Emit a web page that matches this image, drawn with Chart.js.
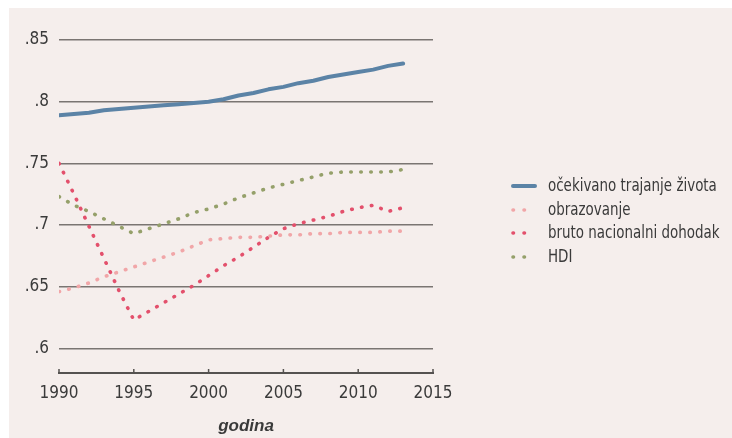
<!DOCTYPE html>
<html>
<head>
<meta charset="utf-8">
<script src="https://cdn.jsdelivr.net/npm/chart.js@4/dist/chart.umd.min.js"></script>
<style>
  html, body { margin: 0; padding: 0; background: #ffffff; }
  #wrap { width: 732px; height: 438px; position: relative; }
  canvas { display: block; }
</style>
</head>
<body>
<div id="wrap"><canvas id="c" width="732" height="438"></canvas></div>
<script>
// ---- data ----
const years = [1990,1991,1992,1993,1994,1995,1996,1997,1998,1999,2000,2001,2002,2003,2004,2005,2006,2007,2008,2009,2010,2011,2012,2013];
const lifeExpectancy = [0.789,0.790,0.791,0.793,0.794,0.795,0.796,0.797,0.798,0.799,0.800,0.802,0.805,0.807,0.810,0.812,0.815,0.817,0.820,0.822,0.824,0.826,0.829,0.831];
const education = [0.646,0.649,0.653,0.658,0.662,0.666,0.670,0.674,0.678,0.683,0.688,0.689,0.690,0.690,0.691,0.692,0.692,0.693,0.693,0.694,0.694,0.694,0.695,0.695];
const grossNationalIncome = [0.750,0.725,0.699,0.673,0.647,0.623,0.630,0.637,0.644,0.651,0.659,0.667,0.674,0.682,0.690,0.697,0.701,0.704,0.707,0.711,0.714,0.716,0.711,0.714];
const hdi = [0.723,0.716,0.711,0.705,0.699,0.693,0.697,0.701,0.705,0.710,0.713,0.717,0.722,0.726,0.730,0.733,0.736,0.739,0.742,0.743,0.743,0.743,0.743,0.745];
const seriesLabels = ['očekivano trajanje života','obrazovanje','bruto nacionalni dohodak','HDI'];
const xTicks = [1990,1995,2000,2005,2010,2015];
const yTicks = [0.6,0.65,0.7,0.75,0.8,0.85];
const xTitle = 'godina';

const FONT = "'Liberation Sans Narrow', 'DejaVu Sans Condensed', 'Liberation Sans', sans-serif";
const TEXT = '#3a3a3a';

const toPoints = arr => years.map((y, i) => ({ x: y, y: arr[i] }));

const seriesStyles = [
  { color: '#5b83a6', width: 4, dash: [] },
  { color: '#f1a6a8', width: 3.6, dash: [0.5, 9.5] },
  { color: '#e3506c', width: 3.6, dash: [0.5, 9.5] },
  { color: '#95a06a', width: 3.6, dash: [0.5, 9.5] }
];
const seriesData = [lifeExpectancy, education, grossNationalIncome, hdi];

const datasets = seriesLabels.map((label, i) => ({
  label,
  data: toPoints(seriesData[i]),
  borderColor: seriesStyles[i].color,
  borderWidth: seriesStyles[i].width,
  borderDash: seriesStyles[i].dash,
  borderCapStyle: 'round',
  borderJoinStyle: 'round',
  pointRadius: 0,
  tension: 0,
  fill: false
}));

const bgPlugin = {
  id: 'bg',
  beforeDraw(chart) {
    const ctx = chart.ctx;
    ctx.save();
    ctx.fillStyle = '#ffffff';
    ctx.fillRect(0, 0, chart.width, chart.height);
    ctx.fillStyle = '#f5eeec';
    ctx.fillRect(9, 8, chart.width - 9, chart.height - 8);
    ctx.restore();
  }
};

const axisTicksPlugin = {
  id: 'axisTicks',
  afterDraw(chart) {
    const ctx = chart.ctx;
    const xs = chart.scales.x;
    const yb = chart.chartArea.bottom;
    ctx.save();
    ctx.strokeStyle = '#555250';
    ctx.lineWidth = 1.5;
    xTicks.forEach(v => {
      const px = xs.getPixelForValue(v);
      ctx.beginPath();
      ctx.moveTo(px, yb + 1);
      ctx.lineTo(px, yb - 4);
      ctx.stroke();
    });
    ctx.restore();
  }
};

const legendPlugin = {
  id: 'customLegend',
  afterDraw(chart) {
    const ctx = chart.ctx;
    const x0 = 513, x1 = 535, tx = 548;
    const rows = [186, 210, 233, 257];
    ctx.save();
    chart.data.datasets.forEach((ds, i) => {
      const y = rows[i];
      ctx.strokeStyle = ds.borderColor;
      ctx.lineWidth = ds.borderWidth;
      ctx.lineCap = 'round';
      ctx.setLineDash(ds.borderDash.length ? [0.5, 10.5] : []);
      ctx.beginPath();
      ctx.moveTo(x0, y);
      ctx.lineTo(x1, y);
      ctx.stroke();
      ctx.setLineDash([]);
      ctx.fillStyle = TEXT;
      ctx.font = '18px ' + FONT;
      ctx.textBaseline = 'middle';
      ctx.textAlign = 'left';
      ctx.save();
      ctx.translate(tx, y);
      ctx.scale(0.83, 1);
      ctx.fillText(ds.label, 0, 0);
      ctx.restore();
    });
    ctx.restore();
  }
};

new Chart(document.getElementById('c'), {
  type: 'line',
  data: { datasets },
  plugins: [bgPlugin, axisTicksPlugin, legendPlugin],
  options: {
    responsive: false,
    animation: false,
    events: [],
    layout: { padding: { left: 0, right: 299, top: 40, bottom: 0 } },
    plugins: { legend: { display: false }, tooltip: { enabled: false } },
    scales: {
      x: {
        type: 'linear',
        min: 1990,
        max: 2015,
        afterBuildTicks(scale) { scale.ticks = xTicks.map(v => ({ value: v })); },
        afterFit(scale) { scale.height = 65; },
        grid: { display: false, drawTicks: false },
        border: { display: true, color: '#555250', width: 2 },
        ticks: {
          padding: 10,
          color: TEXT,
          font: { family: FONT, size: 17 },
          maxRotation: 0,
          callback: v => String(v)
        },
        title: {
          display: true,
          text: xTitle,
          color: TEXT,
          font: { family: "'Liberation Sans', sans-serif", size: 17, weight: 'bold', style: 'italic' },
          padding: { top: 0, bottom: 1 }
        }
      },
      y: {
        type: 'linear',
        min: 0.58,
        max: 0.85,
        afterBuildTicks(scale) { scale.ticks = yTicks.map(v => ({ value: v })); },
        afterFit(scale) { scale.width = 59; },
        grid: { color: '#7a7572', lineWidth: 1.6, drawTicks: false },
        border: { display: false },
        ticks: {
          padding: 10,
          color: TEXT,
          font: { family: FONT, size: 17 },
          callback: v => {
            let s = String(+v.toFixed(2));
            return s.replace(/^0/, '');
          }
        }
      }
    }
  }
});
</script>
</body>
</html>
